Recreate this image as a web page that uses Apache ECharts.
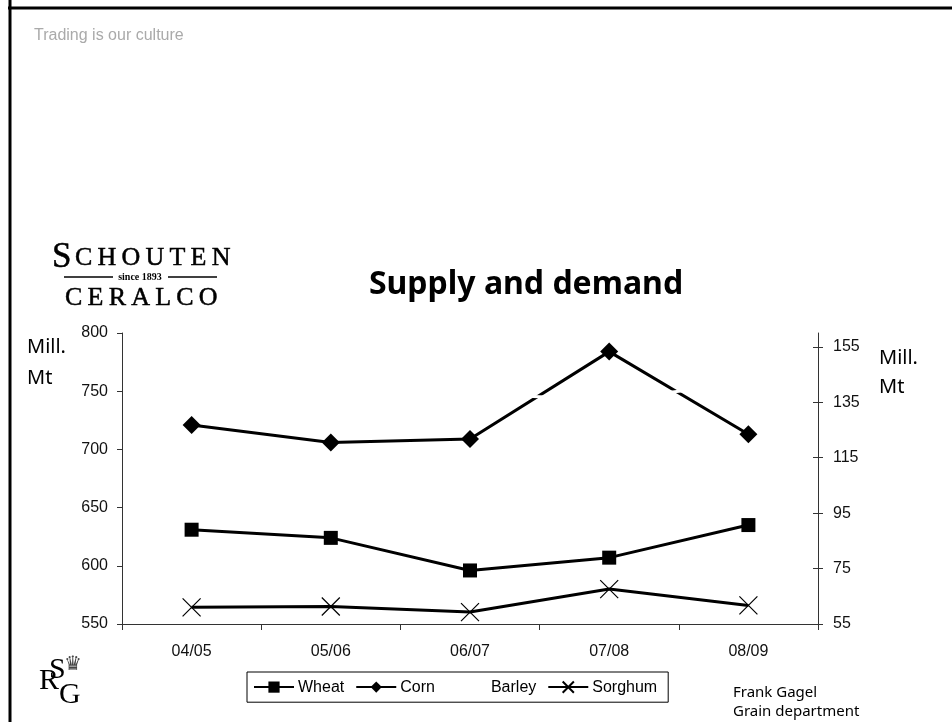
<!DOCTYPE html>
<html><head><meta charset="utf-8">
<style>html,body{margin:0;padding:0;background:#fff}#c{width:952px;height:722px}</style>
<script src="https://cdn.jsdelivr.net/npm/echarts@6/dist/echarts.min.js"></script>
</head><body><div id="c"></div>
<script>
const categories = ['04/05','05/06','06/07','07/08','08/09'];
const wheat = [631, 624, 596, 607, 635];
const corn = [721, 706, 709, 784, 713];
const barley = [153, 140, 138, 136, 142];
const sorghum = [61, 61.3, 59.3, 67.6, 61.7];
const leftTicks = [550, 600, 650, 700, 750, 800];
const rightTicks = [55, 75, 95, 115, 135, 155];
const T = (x, y, text, style) => ({type:'text', x, y, style:Object.assign({text, fill:'#000', fontFamily:'Liberation Serif'}, style)});
const L = (x1,y1,x2,y2,w,c) => ({type:'line', shape:{x1,y1,x2,y2}, style:{stroke:c||'#000', lineWidth:w}});
const chart = echarts.init(document.getElementById('c'), null, {renderer:'canvas'});
const axisLine = {show:true, lineStyle:{color:'#333', width:1}};
const X = 'path://M0 0L10 10M10 0L0 10';
const heavy = {stroke:'#000', lineWidth:0.5};
chart.setOption({
  animation:false,
  backgroundColor:'#fff',
  grid:{left:122, right:134, top:333, bottom:98, containLabel:false},
  legend:{
    left:247, top:672, padding:[7,11,7,6], itemWidth:40, itemHeight:14, itemGap:11,
    borderColor:'#000', borderWidth:1, backgroundColor:'#fff',
    textStyle:{fontFamily:'Liberation Sans', fontSize:16, color:'#000', padding:[0,0,0,-1]},
    data:['Wheat','Corn','Barley','Sorghum']
  },
  xAxis:{type:'category', data:categories, boundaryGap:true,
    axisLine:Object.assign({onZero:false},axisLine),
    axisTick:{show:true, alignWithLabel:false, length:6, lineStyle:{color:'#333'}},
    axisLabel:{fontFamily:'Liberation Sans', fontSize:16, color:'#111', margin:20},
    splitLine:{show:false}},
  yAxis:[
    {type:'value', position:'left', min:550, max:800, interval:50,
     axisLine, axisTick:{show:true, length:5, lineStyle:{color:'#333'}},
     axisLabel:{fontFamily:'Liberation Sans', fontSize:16, color:'#111', margin:14, customValues:leftTicks},
     splitLine:{show:false}},
    {type:'value', position:'right', min:55, max:160, alignTicks:false,
     axisLine, axisTick:{show:true, length:5, customValues:rightTicks, lineStyle:{color:'#333'}},
     axisLabel:{fontFamily:'Liberation Sans', fontSize:16, color:'#111', margin:15, customValues:rightTicks},
     splitLine:{show:false}},
    {type:'value', position:'right', min:55, max:160, alignTicks:false,
     axisLine:{show:false}, axisTick:{show:true, inside:true, length:5, customValues:rightTicks, lineStyle:{color:'#333'}},
     axisLabel:{show:false}, splitLine:{show:false}}
  ],
  series:[
    {name:'Wheat', type:'line', yAxisIndex:0, data:wheat, symbol:'rect', symbolSize:14,
     lineStyle:{color:'#000', width:3}, itemStyle:{color:'#000'}},
    {name:'Corn', type:'line', yAxisIndex:0, data:corn, symbol:'diamond', symbolSize:18,
     lineStyle:{color:'#000', width:3}, itemStyle:{color:'#000'}},
    {name:'Sorghum', type:'line', yAxisIndex:1, data:sorghum, symbol:X, symbolSize:18,
     lineStyle:{color:'#000', width:3}, itemStyle:{color:'none', borderColor:'#000', borderWidth:1.2}},
    {name:'Barley', type:'line', yAxisIndex:1, data:barley, symbol:'none', z:5,
     lineStyle:{color:'#fff', width:3}, itemStyle:{color:'#fff'}}
  ],
  graphic:[
    L(10,0,10,722,3), L(8,8,952,8,3),
    T(34,28,'Trading is our culture',{fontSize:16,fill:'#aaa',fontFamily:'Liberation Sans'}),
    T(52,240,'S',Object.assign({fontSize:35},heavy)),
    T(75,245,'C\u2009H\u2009O\u2009U\u2009T\u2009E\u2009N',Object.assign({fontSize:26},heavy)),
    L(64,277,113,277,1.5), L(168,277,217,277,1.5),
    T(140,272,'since 1893',{fontSize:10,fontWeight:'bold',align:'center'}),
    T(65,285,'C\u2009E\u2009R\u2009A\u2009L\u2009C\u2009O',Object.assign({fontSize:26},heavy)),
    T(526,269,'Supply and demand',{fontFamily:'Noto Sans',fontWeight:'bold',fontSize:32,align:'center'}),
    T(27,337,'Mill.',{fontFamily:'Noto Sans',fontSize:20}),
    T(27,368,'Mt',{fontFamily:'Noto Sans',fontSize:20}),
    T(879,348,'Mill.',{fontFamily:'Noto Sans',fontSize:20}),
    T(879,377,'Mt',{fontFamily:'Noto Sans',fontSize:20}),
    T(39,666,'R',{fontSize:30}),
    T(49,655,'S',{fontSize:30}),
    T(59,680,'G',{fontSize:30}),
    T(64,655,'♛',{fontSize:20,fontFamily:'DejaVu Sans',fill:'#444'}),
    T(733,685,'Frank Gagel',{fontFamily:'Noto Sans',fontSize:15}),
    T(733,704,'Grain department',{fontFamily:'Noto Sans',fontSize:15})
  ]
});
</script></body></html>
